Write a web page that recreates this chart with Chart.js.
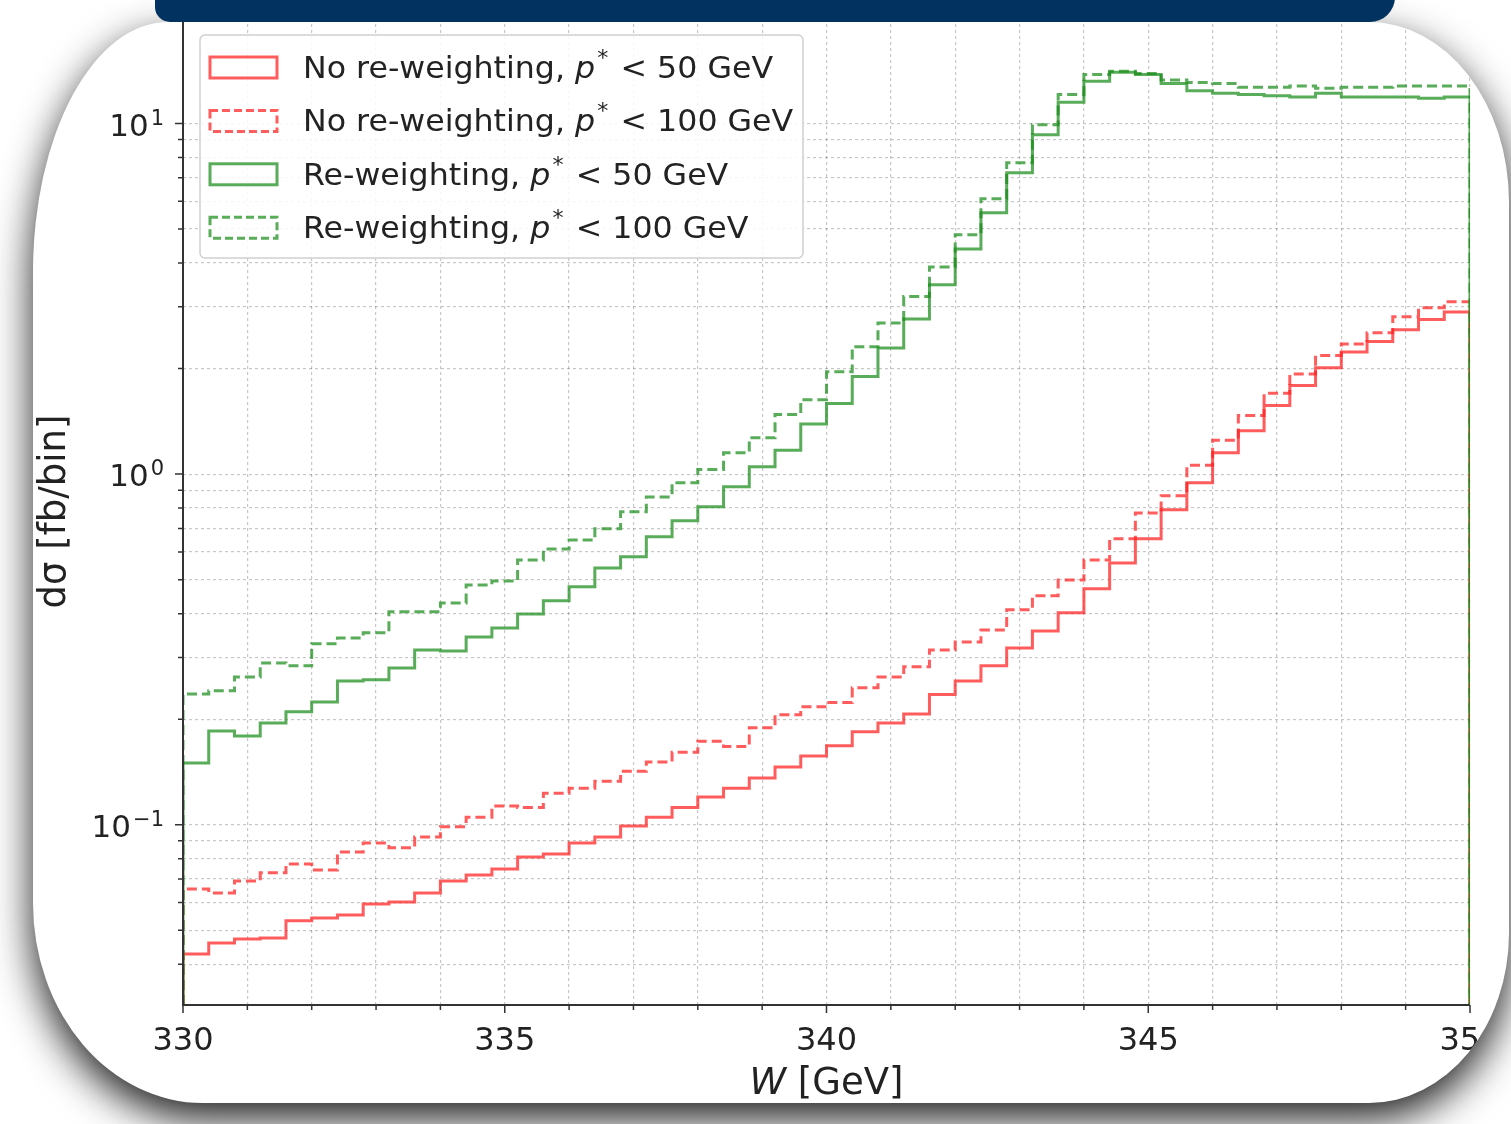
<!DOCTYPE html>
<html>
<head>
<meta charset="utf-8">
<title>d sigma vs W</title>
<script src="https://cdn.jsdelivr.net/npm/chart.js@4.4.0/dist/chart.umd.min.js"></script>
<style>
  html, body { margin: 0; padding: 0; }
  body { width: 1511px; height: 1124px; overflow: hidden; position: relative; background: #fff; }
  #topbar {
    position: absolute; left: 155px; top: -60px; width: 1240px; height: 82px;
    background: #02325f; border-radius: 0 0 25px 15px; z-index: 3;
  }
  #card {
    position: absolute; left: 33px; top: 22px; width: 1476px; height: 1081px;
    background: #fff; overflow: hidden; z-index: 2;
    border-radius: 135px 140px 140px 170px / 250px 180px 170px 200px;
    box-shadow: 0 16px 40px rgba(0, 0, 0, 0.88);
  }
  #chart { position: absolute; left: -33px; top: -22px; filter: blur(0.5px); }
</style>
</head>
<body>
<div id="topbar"></div>
<div id="card"><canvas id="chart" width="1511" height="1124"></canvas></div>
<script>
// Dados: bins de W [GeV] (0.4 GeV) e dsigma [fb/bin]
const binEdges = [
  330.0, 330.4, 330.8, 331.2, 331.6, 332.0, 332.4, 332.8, 333.2, 333.6,
  334.0, 334.4, 334.8, 335.2, 335.6, 336.0, 336.4, 336.8, 337.2, 337.6,
  338.0, 338.4, 338.8, 339.2, 339.6, 340.0, 340.4, 340.8, 341.2, 341.6,
  342.0, 342.4, 342.8, 343.2, 343.6, 344.0, 344.4, 344.8, 345.2, 345.6,
  346.0, 346.4, 346.8, 347.2, 347.6, 348.0, 348.4, 348.8, 349.2, 349.6,
  350.0
];

// No re-weighting, p* < 50 GeV
const noRw50 = [
  0.0428, 0.0460, 0.0472, 0.0475, 0.0532, 0.0542, 0.0553, 0.0594, 0.0602, 0.0639,
  0.0691, 0.0719, 0.0748, 0.0809, 0.0825, 0.0887, 0.0923, 0.0992, 0.105, 0.112,
  0.120, 0.127, 0.136, 0.146, 0.157, 0.168, 0.184, 0.195, 0.207, 0.235,
  0.257, 0.284, 0.319, 0.357, 0.402, 0.471, 0.558, 0.654, 0.791, 0.945,
  1.15, 1.33, 1.57, 1.79, 2.01, 2.23, 2.39, 2.58, 2.76, 2.90
];

// No re-weighting, p* < 100 GeV
const noRw100 = [
  0.0656, 0.0639, 0.0691, 0.0729, 0.0773, 0.0743, 0.0836, 0.0887, 0.0859, 0.0923,
  0.0986, 0.105, 0.113, 0.112, 0.123, 0.127, 0.133, 0.142, 0.151, 0.161,
  0.173, 0.167, 0.189, 0.206, 0.217, 0.223, 0.246, 0.264, 0.282, 0.315,
  0.332, 0.359, 0.410, 0.450, 0.499, 0.569, 0.654, 0.775, 0.867, 1.06,
  1.25, 1.47, 1.70, 1.93, 2.18, 2.35, 2.53, 2.81, 2.98, 3.10
];

// Re-weighting, p* < 50 GeV
const rw50 = [
  0.150, 0.185, 0.179, 0.195, 0.210, 0.224, 0.257, 0.259, 0.280, 0.315,
  0.313, 0.343, 0.364, 0.399, 0.435, 0.477, 0.540, 0.581, 0.663, 0.736,
  0.807, 0.920, 1.05, 1.17, 1.39, 1.59, 1.90, 2.29, 2.77, 3.47,
  4.39, 5.57, 7.24, 9.29, 11.5, 13.2, 14.0, 13.8, 13.0, 12.4,
  12.2, 12.1, 12.0, 11.9, 12.2, 11.9, 11.9, 11.9, 11.8, 11.9
];

// Re-weighting, p* < 100 GeV
const rw100 = [
  0.236, 0.241, 0.264, 0.289, 0.284, 0.328, 0.341, 0.353, 0.405, 0.405,
  0.429, 0.483, 0.496, 0.569, 0.612, 0.649, 0.698, 0.781, 0.861, 0.945,
  1.03, 1.15, 1.27, 1.48, 1.63, 1.96, 2.31, 2.70, 3.21, 3.90,
  4.82, 6.10, 7.73, 9.92, 12.1, 13.8, 14.1, 13.9, 13.3, 13.1,
  13.0, 12.7, 12.7, 12.8, 12.6, 12.7, 12.7, 12.8, 12.8, 12.8
];

// Eixos
const xTickLabels = [330, 335, 340, 345, 350];
const xGridTicks = [330, 331, 332, 333, 334, 335, 336, 337, 338, 339, 340,
                    341, 342, 343, 344, 345, 346, 347, 348, 349, 350];
const yMajorTicks = [0.1, 1, 10];
const yTickExponents = ["\u22121", "0", "1"];
const yGridTicks = [0.04, 0.05, 0.06, 0.07, 0.08, 0.09,
                    0.1, 0.2, 0.3, 0.4, 0.5, 0.6, 0.7, 0.8, 0.9,
                    1, 2, 3, 4, 5, 6, 7, 8, 9, 10, 20];
const yMin = 0.0306;
const yMax = 20;

const legendPrefix = ["No re-weighting, ", "No re-weighting, ", "Re-weighting, ", "Re-weighting, "];
const legendCut = ["50", "100", "50", "100"];

const FONT = "'DejaVu Sans', 'Liberation Sans', sans-serif";
const TEXT = "#222";
const RED = "rgba(255, 30, 30, 0.72)";
const GREEN = "rgba(25, 140, 25, 0.72)";
const DASH = [10, 5];

// histograma em degraus (histtype='step'), fechado no fundo dos dois lados
function histSteps(values) {
  const last = binEdges[binEdges.length - 1];
  const pts = [{ x: binEdges[0], y: yMin }];
  values.forEach((v, i) => pts.push({ x: binEdges[i], y: v }));
  pts.push({ x: last, y: values[values.length - 1] });
  pts.push({ x: last, y: yMin });
  return pts;
}

function serie(label, values, color, dashed) {
  return {
    label,
    data: histSteps(values),
    borderColor: color,
    borderWidth: 3,
    borderDash: dashed ? DASH : [],
    pointRadius: 0,
    stepped: "before",
    fill: false,
  };
}

const legendStyles = [
  { color: RED, dashed: false },
  { color: RED, dashed: true },
  { color: GREEN, dashed: false },
  { color: GREEN, dashed: true },
];

// sem padding extra das escalas: a area do grafico fica onde deve
function semPadding(s) {
  s.paddingLeft = 0;
  s.paddingRight = 0;
  s.paddingTop = 0;
  s.paddingBottom = 0;
}

// molduras, marcas dos ticks, rotulos 10^n, legenda e titulo do eixo x
const decoracoes = {
  id: "decoracoes",
  afterDatasetsDraw(chart) {
    const { ctx, chartArea: a, scales } = chart;
    ctx.save();
    ctx.strokeStyle = "#333";
    ctx.lineWidth = 2;
    ctx.beginPath();
    ctx.moveTo(a.left, a.top);
    ctx.lineTo(a.left, a.bottom);
    ctx.lineTo(a.right, a.bottom);
    ctx.stroke();

    ctx.lineWidth = 1.5;
    ctx.beginPath();
    xGridTicks.forEach((v) => {
      const px = scales.x.getPixelForValue(v);
      const len = xTickLabels.includes(v) ? 8 : 5;
      ctx.moveTo(px, a.bottom);
      ctx.lineTo(px, a.bottom + len);
    });
    yGridTicks.forEach((v) => {
      const py = scales.y.getPixelForValue(v);
      const len = yMajorTicks.includes(v) ? 8 : 5;
      ctx.moveTo(a.left, py);
      ctx.lineTo(a.left - len, py);
    });
    ctx.stroke();
    ctx.restore();
  },
  afterDraw(chart) {
    const { ctx, chartArea: a, scales } = chart;
    ctx.save();
    ctx.fillStyle = TEXT;
    ctx.textBaseline = "alphabetic";

    // rotulos do eixo y: 10 com expoente
    yMajorTicks.forEach((v, i) => {
      const py = scales.y.getPixelForValue(v);
      ctx.font = `21px ${FONT}`;
      const wE = ctx.measureText(yTickExponents[i]).width;
      ctx.font = `31px ${FONT}`;
      const wB = ctx.measureText("10").width;
      const right = a.left - 19;
      ctx.fillText("10", right - wE - wB - 2, py + 12);
      ctx.font = `21px ${FONT}`;
      ctx.fillText(yTickExponents[i], right - wE, py + 1);
    });

    // legenda
    const bx = a.left + 17, by = a.top + 17, bw = 603, bh = 223;
    ctx.fillStyle = "rgba(255,255,255,0.85)";
    ctx.strokeStyle = "#d0d0d0";
    ctx.lineWidth = 1.5;
    ctx.beginPath();
    ctx.roundRect(bx, by, bw, bh, 5);
    ctx.fill();
    ctx.stroke();

    legendStyles.forEach((st, i) => {
      const cy = by + 32 + i * 53.4;
      ctx.strokeStyle = st.color;
      ctx.lineWidth = 3;
      ctx.setLineDash(st.dashed ? [8, 4] : []);
      ctx.strokeRect(bx + 10, cy - 10, 67, 21);
      ctx.setLineDash([]);

      ctx.save();
      ctx.fillStyle = TEXT;
      ctx.translate(bx + 103, cy + 11);
      ctx.scale(1.055, 1);
      let x = 0;
      ctx.font = `30px ${FONT}`;
      ctx.fillText(legendPrefix[i], x, 0);
      x += ctx.measureText(legendPrefix[i]).width;
      ctx.font = `italic 30px ${FONT}`;
      ctx.fillText("p", x, 0);
      x += ctx.measureText("p").width + 2;
      ctx.font = `21px ${FONT}`;
      ctx.fillText("*", x, -13);
      x += ctx.measureText("*").width + 2;
      ctx.font = `30px ${FONT}`;
      ctx.fillText(` < ${legendCut[i]} GeV`, x, 0);
      ctx.restore();
    });

    // titulo do eixo x: W em italico
    ctx.fillStyle = TEXT;
    ctx.font = `italic 37px ${FONT}`;
    const wW = ctx.measureText("W").width;
    ctx.font = `37px ${FONT}`;
    const rest = " [GeV]";
    const wR = ctx.measureText(rest).width;
    const x0 = (a.left + a.right) / 2 - (wW + wR) / 2;
    const ty = a.bottom + 89;
    ctx.font = `italic 37px ${FONT}`;
    ctx.fillText("W", x0, ty);
    ctx.font = `37px ${FONT}`;
    ctx.fillText(rest, x0 + wW, ty);
    ctx.restore();
  },
};

const gridCfg = { color: "rgba(0,0,0,0.22)", lineWidth: 1.2, drawTicks: false };

new Chart(document.getElementById("chart").getContext("2d"), {
  type: "line",
  data: {
    datasets: [
      serie("Re-weighting, p* < 100 GeV", rw100, GREEN, true),
      serie("Re-weighting, p* < 50 GeV", rw50, GREEN, false),
      serie("No re-weighting, p* < 100 GeV", noRw100, RED, true),
      serie("No re-weighting, p* < 50 GeV", noRw50, RED, false),
    ],
  },
  options: {
    responsive: false,
    animation: false,
    devicePixelRatio: 1,
    parsing: false,
    layout: { padding: { left: 0, right: 41, top: 18, bottom: 0 } },
    plugins: { legend: { display: false }, tooltip: { enabled: false } },
    scales: {
      x: {
        type: "linear",
        min: 330,
        max: 350,
        afterFit: (s) => { s.height = 119; semPadding(s); },
        afterBuildTicks: (s) => { s.ticks = xGridTicks.map((v) => ({ value: v })); },
        ticks: {
          autoSkip: false,
          maxRotation: 0,
          padding: 17,
          color: TEXT,
          font: { family: FONT, size: 32 },
          callback: (v) => (xTickLabels.includes(v) ? String(v) : ""),
        },
        grid: gridCfg,
        border: { display: false, dash: [3, 3] },
      },
      y: {
        type: "logarithmic",
        min: yMin,
        max: yMax,
        afterFit: (s) => { s.width = 183; semPadding(s); },
        afterBuildTicks: (s) => { s.ticks = yGridTicks.map((v) => ({ value: v })); },
        ticks: { display: false, autoSkip: false },
        grid: gridCfg,
        border: { display: false, dash: [3, 3] },
        title: {
          display: true,
          text: "d\u03C3 [fb/bin]",
          color: TEXT,
          font: { family: FONT, size: 37 },
          padding: { top: 33, bottom: 0 },
        },
      },
    },
  },
  plugins: [decoracoes],
});
</script>
</body>
</html>
